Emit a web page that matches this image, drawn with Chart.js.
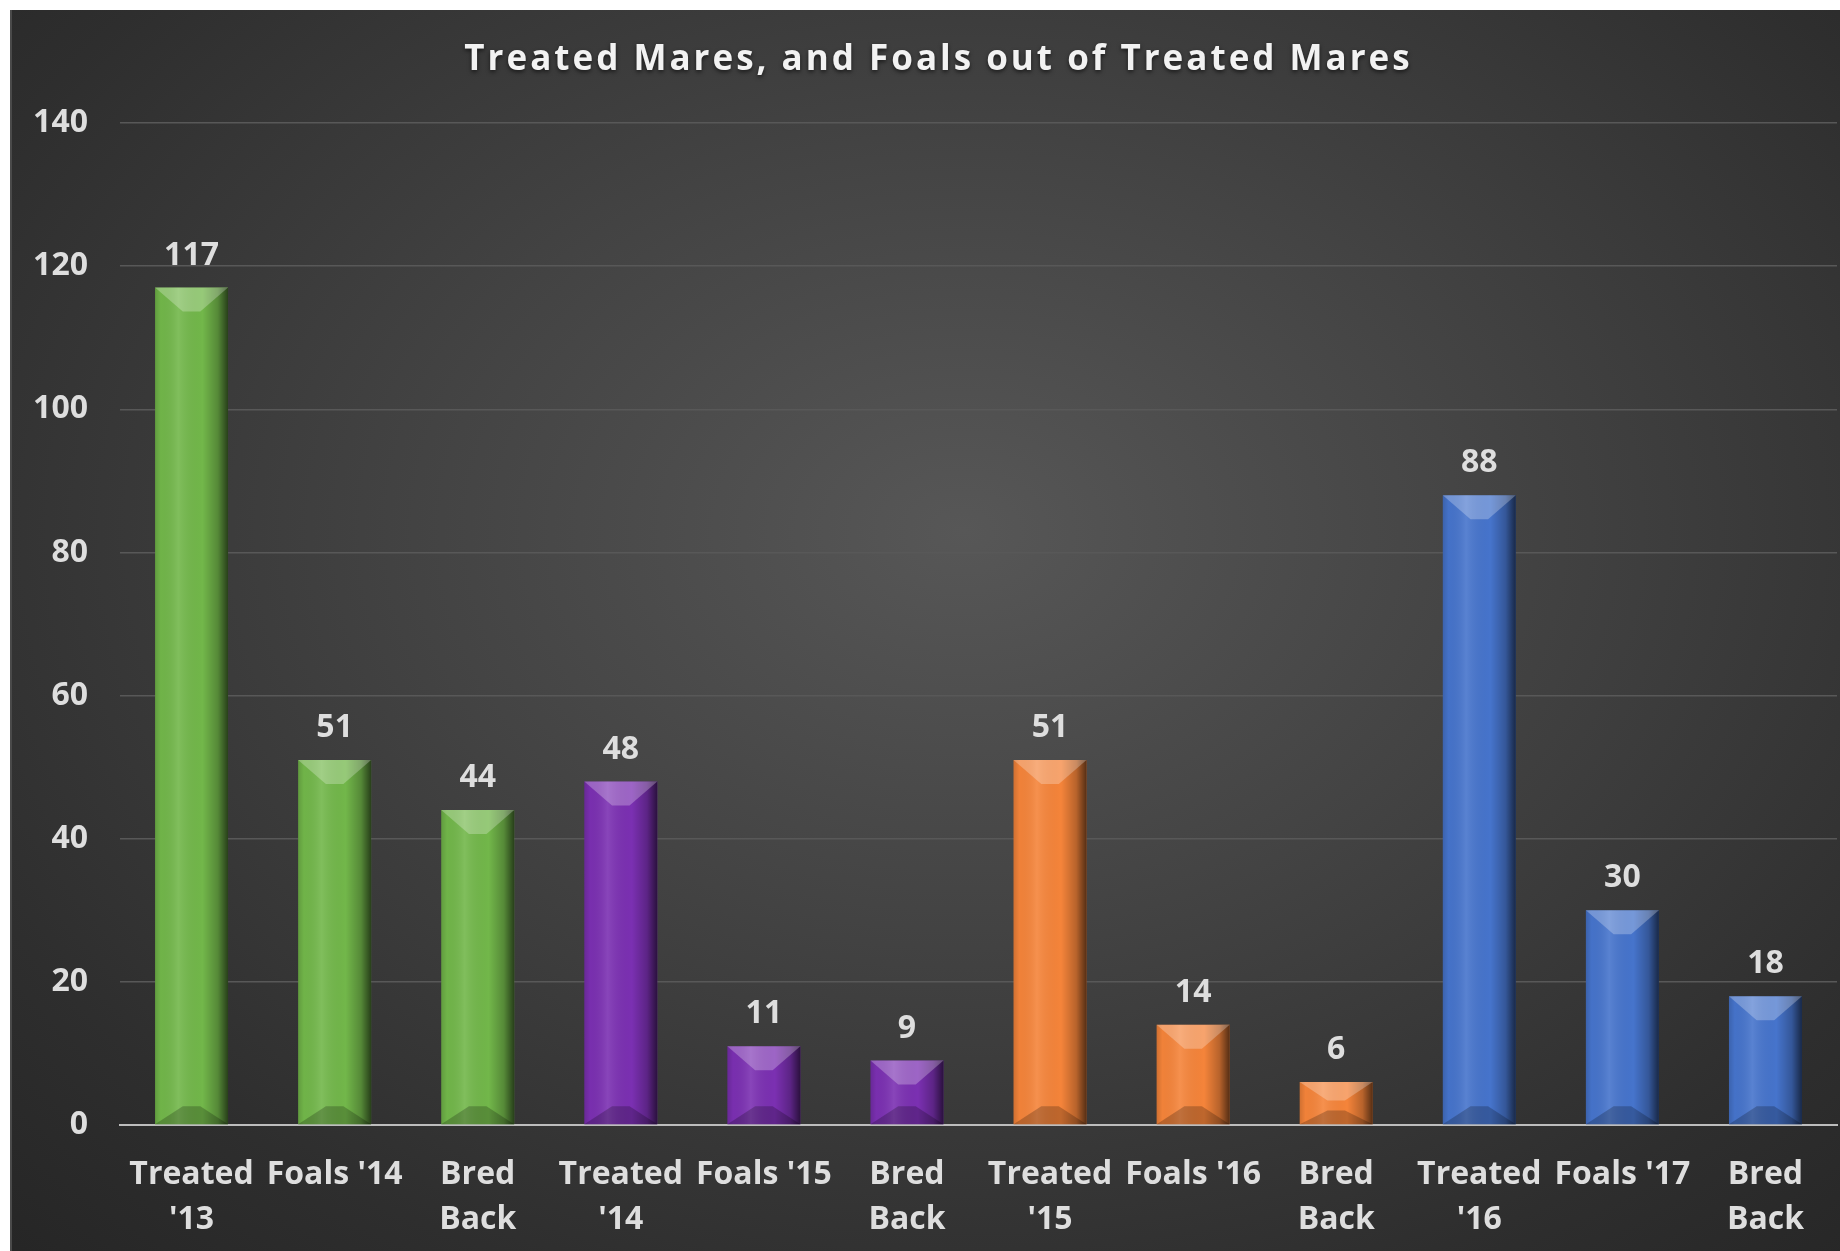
<!DOCTYPE html>
<html>
<head>
<meta charset="utf-8">
<title>Treated Mares, and Foals out of Treated Mares</title>
<script src="https://cdn.jsdelivr.net/npm/chart.js@4.4.1/dist/chart.umd.min.js"></script>
<style>
  html, body { margin: 0; padding: 0; background: #ffffff; }
  #frame {
    position: absolute;
    left: 10px;
    top: 10px;
    width: 1830px;
    height: 1241px;
    box-sizing: border-box;
    border-left: 2px solid #4a4a4a;
    background: radial-gradient(ellipse 75% 80% at 52% 42%, #575757 0%, #434343 40%, #2e2e2e 80%, #262626 100%);
  }
</style>
</head>
<body>
<div id="frame"><canvas id="maresChart"></canvas></div>
<script>
const categories = [
  ["Treated", "'13"], ["Foals '14"], ["Bred", "Back"],
  ["Treated", "'14"], ["Foals '15"], ["Bred", "Back"],
  ["Treated", "'15"], ["Foals '16"], ["Bred", "Back"],
  ["Treated", "'16"], ["Foals '17"], ["Bred", "Back"],
];
const counts = [117, 51, 44, 48, 11, 9, 51, 14, 6, 88, 30, 18];
const groupColors = ["#72b74a", "#7b30b2", "#f5843a", "#4674cc"];
const yTicks = { min: 0, max: 140, step: 20 };
const chartTitle = "Treated Mares, and Foals out of Treated Mares";

const barColors = counts.map((_, i) => groupColors[Math.floor(i / 3)]);
const textColor = "#dedede";
const font = "'Open Sans', 'Noto Sans', sans-serif";

// title drawn with a bit of letter spacing inside the box Chart.js reserved for it
const spacedTitle = {
  id: "spacedTitle",
  afterDraw(chart) {
    const block = chart.titleBlock;
    if (!block) return;
    const ctx = chart.ctx;
    ctx.save();
    ctx.font = `bold 35px ${font}`;
    ctx.letterSpacing = "3px";
    ctx.fillStyle = "#f2f2f2";
    ctx.shadowColor = "rgba(0,0,0,0.6)";
    ctx.shadowBlur = 4;
    ctx.shadowOffsetY = 2;
    ctx.textAlign = "center";
    ctx.textBaseline = "middle";
    ctx.fillText(chartTitle, block.left + block.width / 2 + 14, block.top + 26 + 24);
    ctx.restore();
  },
};

// bevel + shading on every bar, using the bar elements laid out by Chart.js
const bevelPlugin = {
  id: "bevel",
  afterDatasetsDraw(chart) {
    const ctx = chart.ctx;
    chart.getDatasetMeta(0).data.forEach((bar) => {
      const { x, y, base, width } = bar.getProps(["x", "y", "base", "width"], true);
      const left = x - width / 2;
      const right = x + width / 2;
      const h = base - y;
      const d = Math.min(24, h / 2.3);
      const inset = Math.min(28, width * 0.38);
      ctx.save();

      const shade = ctx.createLinearGradient(left, 0, right, 0);
      shade.addColorStop(0, "rgba(0,0,0,0.15)");
      shade.addColorStop(0.08, "rgba(0,0,0,0.02)");
      shade.addColorStop(0.32, "rgba(255,255,255,0.10)");
      shade.addColorStop(0.65, "rgba(0,0,0,0)");
      shade.addColorStop(0.86, "rgba(0,0,0,0.25)");
      shade.addColorStop(1, "rgba(0,0,0,0.65)");
      ctx.fillStyle = shade;
      ctx.fillRect(left, y, width, h);

      ctx.fillStyle = "rgba(255,255,255,0.26)";
      ctx.beginPath();
      ctx.moveTo(left, y);
      ctx.lineTo(right, y);
      ctx.lineTo(right - inset, y + d);
      ctx.lineTo(left + inset, y + d);
      ctx.closePath();
      ctx.fill();

      ctx.fillStyle = "rgba(0,0,0,0.22)";
      ctx.beginPath();
      ctx.moveTo(left, base);
      ctx.lineTo(right, base);
      ctx.lineTo(right - inset, base - d * 0.75);
      ctx.lineTo(left + inset, base - d * 0.75);
      ctx.closePath();
      ctx.fill();
      ctx.restore();
    });
  },
};

// value labels above the bars
const valueLabels = {
  id: "valueLabels",
  afterDatasetsDraw(chart) {
    const ctx = chart.ctx;
    const data = chart.data.datasets[0].data;
    ctx.save();
    ctx.font = `bold 32px ${font}`;
    ctx.fillStyle = textColor;
    ctx.textAlign = "center";
    ctx.textBaseline = "middle";
    chart.getDatasetMeta(0).data.forEach((bar, i) => {
      ctx.fillText(String(data[i]), bar.x, bar.y - 32);
    });
    ctx.restore();
  },
};

new Chart(document.getElementById("maresChart"), {
  type: "bar",
  data: {
    labels: categories,
    datasets: [
      {
        data: counts,
        backgroundColor: barColors,
        borderWidth: 0,
        categoryPercentage: 1,
        barPercentage: 0.51,
      },
    ],
  },
  options: {
    responsive: true,
    maintainAspectRatio: false,
    animation: false,
    layout: { padding: { left: 0, right: 3, top: 0, bottom: 0 } },
    plugins: {
      legend: { display: false },
      tooltip: { enabled: false },
      title: {
        display: true,
        text: chartTitle,
        color: "rgba(0,0,0,0)",
        font: { family: font, size: 35, weight: "bold" },
        padding: { top: 26, bottom: 45 },
      },
    },
    scales: {
      x: {
        grid: { display: false },
        border: { display: true, color: "#bdbdbd", width: 2 },
        ticks: {
          color: textColor,
          font: { family: font, size: 32, weight: "bold", lineHeight: 1.42 },
          padding: 19,
          maxRotation: 0,
          autoSkip: false,
        },
        afterFit(scale) {
          scale.height = 126;
        },
      },
      y: {
        min: yTicks.min,
        max: yTicks.max,
        border: { display: false },
        grid: {
          color: (c) => (c.tick.value === 0 ? "#bdbdbd" : "#585858"),
          lineWidth: 1.5,
          drawTicks: false,
        },
        ticks: {
          stepSize: yTicks.step,
          color: textColor,
          font: { family: font, size: 32, weight: "bold" },
          padding: 32,
        },
        afterFit(scale) {
          scale.width = 108;
        },
      },
    },
  },
  plugins: [bevelPlugin, valueLabels, spacedTitle],
});
</script>
</body>
</html>
